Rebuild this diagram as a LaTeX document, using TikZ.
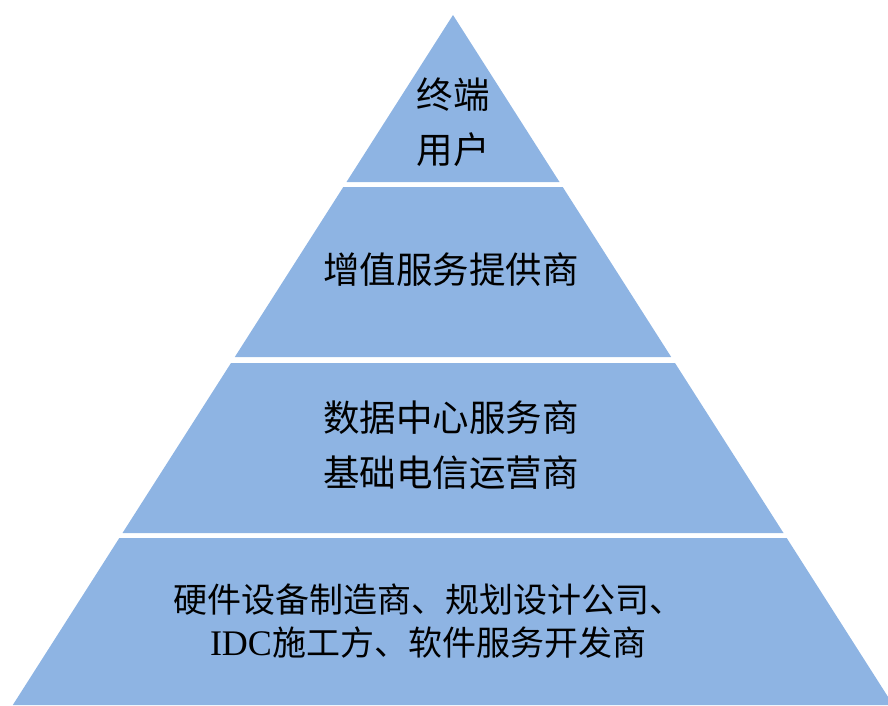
\documentclass[tikz,border=0pt]{standalone}
\usepackage{fontspec}
\setmainfont{Liberation Serif}
\newfontfamily\cjk{Noto Sans CJK SC}
\usetikzlibrary{positioning}
\definecolor{layerblue}{RGB}{142,180,227}

\begin{document}
\begin{tikzpicture}[x=1pt,y=-1pt]
\useasboundingbox (0,0) rectangle (888,705);

\begin{scope}[layer/.style={fill=layerblue}]
    \fill[layer] (453,15) -- (559.5,182) -- (346.5,182) -- cycle;
    \fill[layer] (343.3,187) -- (562.7,187) -- (671.2,357) -- (234.8,357) -- cycle;
    \fill[layer] (231.0,363) -- (675.0,363) -- (783.5,533) -- (122.5,533) -- cycle;
    \fill[layer] (119.3,538) -- (786.7,538) -- (893.2,705) -- (12.8,705) -- cycle;
\end{scope}

\begin{scope}[every node/.style={align=center,text=black,
    font=\cjk\fontsize{36.5}{55}\selectfont}]
    \node (user) at (453,122) {终端\\用户};
    \node (vas) at (451,270) {增值服务提供商};
    \node (idc) at (451,445) {数据中心服务商\\基础电信运营商};
\end{scope}

\begin{scope}[every node/.style={align=center,text=black,
    font=\cjk\fontsize{34}{43}\selectfont}]
    \node (base) at (428,621) {硬件设备制造商、规划设计公司、\\{\rmfamily\fontsize{36}{43}\selectfont IDC}施工方、软件服务开发商};
\end{scope}
\end{tikzpicture}
\end{document}
